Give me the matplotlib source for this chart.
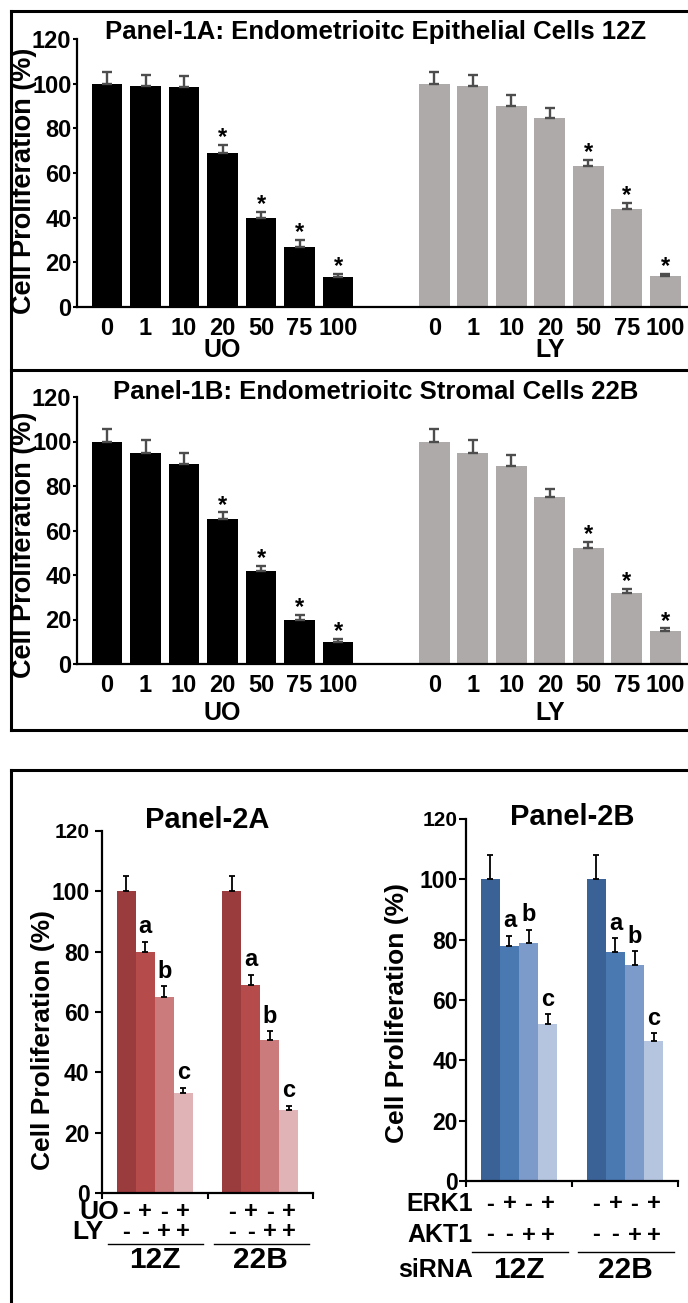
import numpy as np
import matplotlib
matplotlib.use("Agg")
import matplotlib.pyplot as plt
from matplotlib.lines import Line2D
import matplotlib.transforms as mtransforms

plt.rcParams['font.family'] = ['Liberation Sans', 'DejaVu Sans']
plt.rcParams['font.weight'] = 'bold'

# ---- data ----
doses = ["0", "1", "10", "20", "50", "75", "100"]

p1a_uo = [100, 99, 98.5, 69, 40, 27, 13.5]
p1a_uo_err = [5, 5, 5, 3.5, 2.7, 3, 1.2]
p1a_ly = [100, 99, 90, 84.5, 63, 44, 14]
p1a_ly_err = [5, 5, 5, 4.5, 3, 2.5, 1]

p1b_uo = [100, 95, 90, 65, 42, 20, 10]
p1b_uo_err = [5.5, 5.5, 5, 3.2, 2.2, 2, 1.2]
p1b_ly = [100, 95, 89, 75, 52, 32, 15]
p1b_ly_err = [5.5, 5.5, 5, 3.8, 2.9, 1.8, 1]

star_uo = [False, False, False, True, True, True, True]
star_ly = [False, False, False, False, True, True, True]

cells = ["12Z", "22B"]
p2a_vals = [[100, 80, 65, 33], [100, 68.8, 50.8, 27.4]]
p2a_err = [[5.2, 3.2, 3.5, 1.9], [5.2, 3.5, 2.8, 1.5]]
p2b_vals = [[100, 77.8, 79, 52], [100, 76, 71.5, 46.5]]
p2b_err = [[8, 3.5, 4.3, 3.3], [8, 4.4, 4.7, 2.5]]
letters = ["", "a", "b", "c"]
row1 = ["-", "+", "-", "+"]
row2 = ["-", "-", "+", "+"]

red_cols = ["#9A3C3E", "#B54B4B", "#CC7B7D", "#E0B4B6"]
blue_cols = ["#3B6296", "#4A79B2", "#7D9BCA", "#B5C5E0"]

W, H = 688, 1303
fig = plt.figure(figsize=(W / 100, H / 100), dpi=100)


def fx(x):
    return x / W


def fy(y):
    return 1 - y / H


def axes_px(left, right, top, bottom):
    return fig.add_axes([fx(left), fy(bottom), (right - left) / W, (bottom - top) / H])


def panel1(top, bottom, uo, uo_err, ly, ly_err, title, title_y, lab_y, grp_y):
    ax = axes_px(77, 700, top, bottom)
    pos_uo = np.arange(len(doses))
    pos_ly = np.arange(len(doses)) + 8.5
    ax.bar(pos_uo, uo, width=0.8, color="black")
    ax.bar(pos_ly, ly, width=0.8, color="#ADAAA9")
    for p, v, e in [(pos_uo, uo, uo_err), (pos_ly, ly, ly_err)]:
        ax.errorbar(p, v, yerr=[np.zeros(len(e)), e], fmt="none", ecolor="#4D4D4D",
                    elinewidth=1.7, capsize=3.8, capthick=1.7)
    for p, v, e, s in [(pos_uo, uo, uo_err, star_uo), (pos_ly, ly, ly_err, star_ly)]:
        for xi, vi, ei, si in zip(p, v, e, s):
            if si:
                ax.text(xi, vi + ei + 0.3, "*", ha="center", va="baseline", fontsize=17)
    ax.set_xlim(-0.78, 15.4)
    ax.set_ylim(0, 120)
    ax.set_yticks([0, 20, 40, 60, 80, 100, 120])
    ax.set_xticks(list(pos_uo) + list(pos_ly))
    ax.set_xticklabels(doses + doses)
    ax.tick_params(axis="x", length=0, pad=7, labelsize=17)
    ax.tick_params(axis="y", length=3, width=1.5, pad=1, labelsize=17)
    for sp in ["top", "right"]:
        ax.spines[sp].set_visible(False)
    for sp in ["left", "bottom"]:
        ax.spines[sp].set_linewidth(1.6)
    tr = mtransforms.blended_transform_factory(ax.transData, fig.transFigure)
    ax.text(pos_uo.mean(), fy(grp_y), "UO", transform=tr, ha="center", va="center", fontsize=18)
    ax.text(pos_ly.mean(), fy(grp_y), "LY", transform=tr, ha="center", va="center", fontsize=18)
    fig.text(fx(376), fy(title_y), title, ha="center", va="center", fontsize=18.5)
    fig.text(fx(24), fy(lab_y), "Cell Proliferation (%)", rotation=90,
             ha="center", va="center", fontsize=19.5)
    return ax


panel1(39, 307, p1a_uo, p1a_uo_err, p1a_ly, p1a_ly_err,
       "Panel-1A: Endometrioitc Epithelial Cells 12Z", 32, 181, 350)
panel1(397, 664, p1b_uo, p1b_uo_err, p1b_ly, p1b_ly_err,
       "Panel-1B: Endometrioitc Stromal Cells 22B", 392, 545, 713)


def panel2(left, right, top, bottom, vals, errs, cols, title, title_y, lab_x, lab_y,
           names, name_size, rows_y, rows_x, line_y, cell_y, sirna, ypad):
    ax = axes_px(left, right, top, bottom)
    offs = np.array([-0.27, -0.09, 0.09, 0.27])
    for g in range(len(cells)):
        xs = g + offs
        ax.bar(xs, vals[g], width=0.18, color=cols)
        ax.errorbar(xs, vals[g], yerr=[np.zeros(4), errs[g]], fmt="none", ecolor="black",
                    elinewidth=1.3, capsize=2.5, capthick=1.3)
        for xi, vi, ei, l in zip(xs, vals[g], errs[g], letters):
            if l:
                ax.text(xi, vi + ei + 1.2, l, ha="center", va="bottom", fontsize=17)
    ax.set_xlim(-0.5, 1.5)
    ax.set_ylim(0, 120)
    ax.set_yticks([0, 20, 40, 60, 80, 100, 120])
    ax.set_xticks([-0.5, 0.5, 1.5])
    ax.set_xticklabels([])
    ax.tick_params(axis="x", length=4, width=1.5, direction="out")
    ax.tick_params(axis="y", length=5, width=1.5, pad=ypad, labelsize=16.5)
    ax.get_yticklabels()[-1].set_fontsize(15)
    for sp in ["top", "right"]:
        ax.spines[sp].set_visible(False)
    for sp in ["left", "bottom"]:
        ax.spines[sp].set_linewidth(1.6)
    tr = mtransforms.blended_transform_factory(ax.transData, fig.transFigure)
    for g in range(len(cells)):
        xs = g + offs
        for r, ry in zip([row1, row2], rows_y):
            for xi, s in zip(xs, r):
                ax.text(xi, fy(ry), s, transform=tr, ha="center", va="center", fontsize=17)
        ax.add_line(Line2D([g - 0.44, g + 0.46], [fy(line_y), fy(line_y)], transform=tr,
                           color="black", lw=1, clip_on=False))
        ax.text(g, fy(cell_y), cells[g], transform=tr, ha="center", va="center", fontsize=21.5)
    for n, ry, rx in zip(names, rows_y, rows_x):
        fig.text(fx(rx), fy(ry), n, ha="right", va="center", fontsize=name_size)
    if sirna:
        fig.text(fx(rows_x[0]), fy(cell_y), "siRNA", ha="right", va="center", fontsize=18)
    fig.text(fx((left + right) / 2), fy(title_y), title, ha="center", va="center", fontsize=21)
    fig.text(fx(lab_x), fy(lab_y), "Cell Proliferation (%)", rotation=90,
             ha="center", va="center", fontsize=19)
    return ax


panel2(102, 313, 831, 1193, p2a_vals, p2a_err, red_cols, "Panel-2A", 820, 43, 1040,
       ["UO", "LY"], 19, [1212, 1232], [119, 104], 1244, 1260, False, 4)
panel2(466, 678, 819, 1181, p2b_vals, p2b_err, blue_cols, "Panel-2B", 817, 397, 1013,
       ["ERK1", "AKT1"], 18, [1204, 1235], [473, 473], 1252, 1270, True, 1)

# panel frames
frame = dict(color="black", lw=2.2)
for (x0, y0, x1, y1) in [(11, 11, 700, 11), (11, 11, 11, 730), (11, 370, 700, 370),
                         (11, 730, 700, 730), (11, 770, 700, 770), (11, 770, 11, 1310)]:
    fig.add_artist(Line2D([fx(x0), fx(x1)], [fy(y0), fy(y1)], **frame))

fig.savefig("out.png", dpi=100)
